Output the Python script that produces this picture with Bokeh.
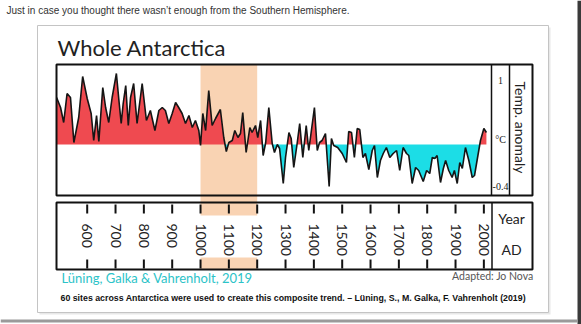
import numpy as np
from bokeh.plotting import figure
from bokeh.models import Range1d
from bokeh.core.properties import value
from bokeh.embed import file_html
from bokeh.resources import INLINE

# ---------------- data ----------------
years = [492, 506, 517, 529, 541, 553, 570, 584, 600, 614, 623, 633, 641, 655, 665, 676, 688, 703, 712, 720,
         727, 736, 745, 753, 764, 776, 794, 809, 823, 839, 853, 865, 876, 888, 900, 912, 923, 935, 947, 959,
         971, 982, 994, 1000, 1008, 1018, 1029, 1041, 1053, 1070, 1082, 1091, 1100, 1112, 1121, 1132, 1141,
         1149, 1161, 1174, 1182, 1194, 1202, 1212, 1221, 1230, 1241, 1253, 1261, 1271, 1279, 1292, 1300,
         1312, 1320, 1329, 1341, 1350, 1361, 1373, 1382, 1402, 1412, 1420, 1429, 1441, 1454, 1462, 1470,
         1484, 1500, 1515, 1523, 1533, 1543, 1553, 1562, 1573, 1582, 1594, 1606, 1614, 1624, 1635, 1645,
         1656, 1668, 1680, 1692, 1703, 1715, 1727, 1735, 1747, 1759, 1770, 1786, 1798, 1809, 1818, 1827,
         1835, 1847, 1857, 1865, 1876, 1888, 1896, 1906, 1915, 1924, 1935, 1947, 1959, 1967, 1976, 1988,
         2000, 2009]
anomaly = [0.47, 0.37, 0.22, 0.51, 0.47, 0.02, 0.27, 0.68, 0.46, 0.31, 0.04, 0.29, 0.03, 0.57, 0.37, 0.22,
           0.47, 0.71, 0.44, 0.21, 0.41, 0.59, 0.19, 0.47, 0.61, 0.21, 0.61, 0.24, 0.34, 0.14, 0.34, 0.37,
           0.34, 0.21, 0.31, 0.42, 0.37, 0.31, 0.21, 0.29, 0.17, 0.24, 0.14, -0.01, 0.31, 0.14, 0.54, 0.19,
           0.26, 0.35, 0.07, -0.07, 0.02, 0.04, 0.14, 0.07, 0.11, 0.32, -0.08, 0.17, 0.12, 0.19, 0.07, 0.24,
           -0.11, 0.02, 0.37, 0.01, -0.08, 0.00, -0.04, -0.39, -0.13, 0.12, 0.06, -0.23, 0.01, 0.21, -0.13,
           0.19, -0.06, 0.37, -0.06, 0.02, 0.04, 0.11, -0.42, 0.06, -0.01, -0.03, -0.09, -0.18, 0.13, 0.12,
           -0.13, 0.16, 0.15, -0.13, -0.09, -0.25, -0.06, -0.01, -0.33, -0.16, -0.09, -0.03, -0.13, -0.09,
           -0.06, -0.26, -0.03, -0.09, -0.11, -0.39, -0.23, -0.26, -0.37, -0.26, -0.29, -0.13, -0.14, -0.11,
           -0.38, -0.24, -0.16, -0.26, -0.33, -0.26, -0.39, -0.18, -0.24, -0.03, -0.16, -0.33, -0.31, -0.16,
           0.04, 0.16, 0.12]
year_ticks = [600, 700, 800, 900, 1000, 1100, 1200, 1300, 1400, 1500, 1600, 1700, 1800, 1900, 2000]
year_tick_labels = [str(t) for t in year_ticks]
band = [1000, 1200]
temp_labels = ["1", "°C", "-0.4"]

# ---------------- layout mapping (pixel -> data) ----------------
W, H = 581, 324
PX0, YEAR0, PXPY = 86.7, 600.0, 0.28333
ZERO_PY, PXPU = 144.0, 100.0

def X(px):
    return YEAR0 + (px - PX0) / PXPY

def Y(py):
    return (ZERO_PY - py) / PXPU

p = figure(width=W, height=H, output_backend="svg", toolbar_location=None,
           x_range=Range1d(X(0), X(W)), y_range=Range1d(Y(H), Y(0)),
           x_axis_type=None, y_axis_type=None, min_border=0)
p.outline_line_color = None
p.grid.visible = False
p.background_fill_color = "white"
p.border_fill_color = "white"

# page frame bits
p.quad(left=[X(577)], right=[X(581)], top=[Y(0)], bottom=[Y(324)], fill_color="#3a3a3a", line_color=None)
p.quad(left=[X(0)], right=[X(577)], top=[Y(319)], bottom=[Y(322)], fill_color="#9a9a9a", line_color=None)
# card
p.quad(left=[X(39)], right=[X(550)], top=[Y(27)], bottom=[Y(314)], fill_color="#e8e8e8", line_color=None)
p.quad(left=[X(37)], right=[X(548)], top=[Y(25)], bottom=[Y(312)], fill_color="white",
       line_color="#c4c4c4", line_width=1)

# band (medieval warm period)
p.quad(left=[band[0]], right=[band[1]], top=[Y(64)], bottom=[Y(215)], fill_color="#f9d3b3", line_color=None)
p.quad(left=[band[0]], right=[band[1]], top=[Y(257)], bottom=[Y(269)], fill_color="#f9d3b3", line_color=None)

# fills with zero crossings
fx, fy = [], []
for i in range(len(years)):
    if i > 0 and anomaly[i - 1] * anomaly[i] < 0:
        t = anomaly[i - 1] / (anomaly[i - 1] - anomaly[i])
        fx.append(years[i - 1] + t * (years[i] - years[i - 1]))
        fy.append(0.0)
    fx.append(years[i])
    fy.append(anomaly[i])
fy = np.array(fy)
p.varea(x=fx, y1=np.zeros(len(fy)), y2=np.maximum(fy, 0), fill_color="#ef4a50")
p.varea(x=fx, y1=np.minimum(fy, 0), y2=np.zeros(len(fy)), fill_color="#1cdde6")
p.line(years, anomaly, line_color="#151515", line_width=1.6)

# chart box
box_col = "#111111"
p.quad(left=[X(56)], right=[X(532)], top=[Y(64)], bottom=[Y(195)], fill_color=None,
       line_color=box_col, line_width=2)
p.segment(x0=[X(491), X(509)], y0=[Y(64)] * 2, x1=[X(491), X(509)], y1=[Y(195)] * 2,
          line_color=box_col, line_width=1.5)
# year box
p.quad(left=[X(56)], right=[X(532)], top=[Y(202)], bottom=[Y(269)], fill_color=None,
       line_color=box_col, line_width=2)
p.segment(x0=[X(491.5)], y0=[Y(202)], x1=[X(491.5)], y1=[Y(269)], line_color=box_col, line_width=1.5)
p.segment(x0=year_ticks, y0=[Y(204)] * len(year_ticks), x1=year_ticks, y1=[Y(213)] * len(year_ticks),
          line_color=box_col, line_width=2)
p.segment(x0=year_ticks, y0=[Y(259)] * len(year_ticks), x1=year_ticks, y1=[Y(268)] * len(year_ticks),
          line_color=box_col, line_width=2)
p.text(x=year_ticks, y=[Y(223)] * len(year_ticks), text=year_tick_labels, angle=-np.pi / 2,
       text_align="left", text_baseline="middle", text_font=value("Lato"),
       text_font_size=value("14px"), text_color="#222222")

# texts (baseline y shifted up to compensate for svg baseline placement)
p.text(x=[X(57)], y=[Y(47)], text=["Whole Antarctica"], text_font=value("Lato"),
       text_font_size=value("22px"), text_color="#222222", text_baseline="alphabetic")
p.text(x=[X(6)], y=[Y(10)], text=["Just in case you thought there wasn\u2019t enough from the Southern Hemisphere."],
       text_font=value("Liberation Sans"), text_font_size=value("10px"), text_color="#333333",
       text_baseline="alphabetic")
p.text(x=[X(500), X(500), X(500)], y=[Y(80), Y(139), Y(186)], text=temp_labels,
       text_font=value("Liberation Serif"), text_font_size=value("10px"), text_color="#222222",
       text_align="center", text_baseline="middle")
p.text(x=[X(520)], y=[Y(127)], text=["Temp. anomaly"], angle=-np.pi / 2, text_font=value("Lato"),
       text_font_size=value("14px"), text_color="#222222", text_align="center", text_baseline="middle")
p.text(x=[X(511), X(511)], y=[Y(218), Y(249)], text=["Year", "AD"], text_font=value("Lato"),
       text_font_size=value("14px"), text_color="#222222", text_align="center", text_baseline="middle")
p.text(x=[X(61)], y=[Y(277)], text=["Lüning, Galka & Vahrenholt, 2019"], text_font=value("Lato"),
       text_font_size=value("13px"), text_color="#2cc3c8", text_baseline="alphabetic")
p.text(x=[X(533)], y=[Y(275)], text=["Adapted: Jo Nova"], text_font=value("Lato"),
       text_font_size=value("10.5px"), text_color="#555555", text_align="right", text_baseline="alphabetic")
p.text(x=[X(60)], y=[Y(297)],
       text=["60 sites across Antarctica were used to create this composite trend. \u2013 Lüning, S., M. Galka, F. Vahrenholt (2019)"],
       text_font=value("Liberation Sans"), text_font_size=value("8.8px"), text_font_style="bold",
       text_color="#111111", text_baseline="alphabetic")

open("out.html", "w").write(file_html(p, INLINE))
